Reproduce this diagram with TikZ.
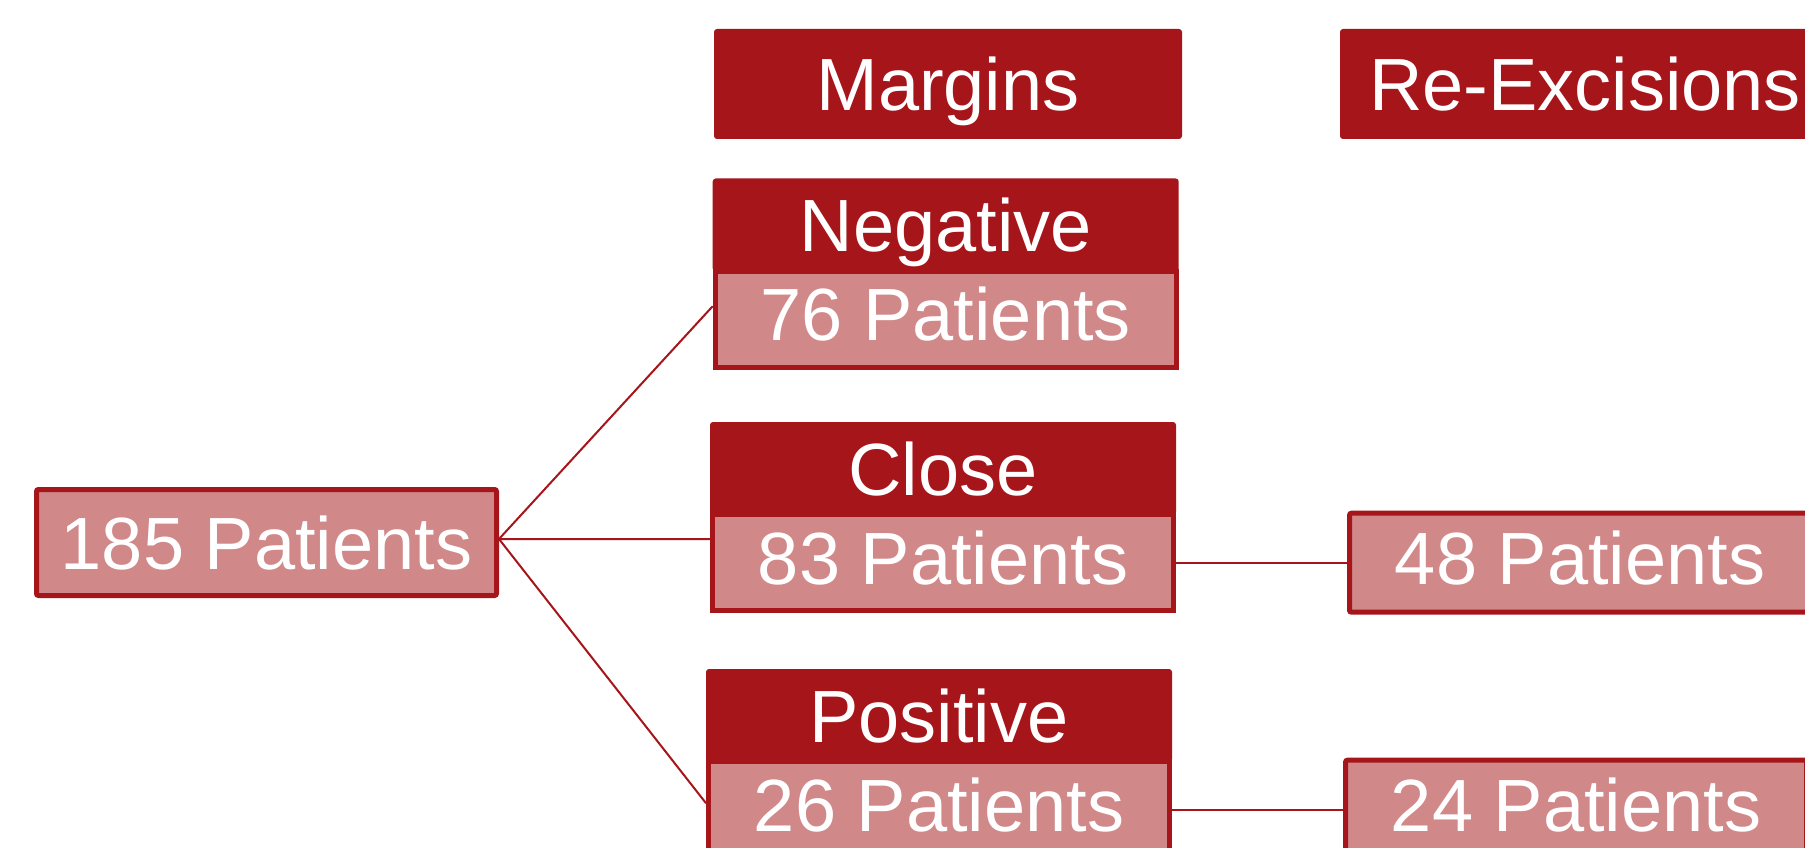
\documentclass[tikz,border=0pt]{standalone}
\usepackage{fontspec}
\setmainfont{Liberation Sans}
\usetikzlibrary{positioning}
\definecolor{marginred}{RGB}{165,21,26}
\definecolor{marginpink}{RGB}{209,136,137}
\begin{document}
\begin{tikzpicture}
		[x=1pt, y=-1pt,
		head/.style={rectangle, fill=marginred, rounded corners=3pt,
			text=white, inner sep=0pt, minimum width=466pt, minimum height=93pt,
			text height=53pt, text depth=0pt, font=\fontsize{74}{80}\selectfont},
		count/.style={rectangle, fill=marginpink, draw=marginred, line width=5pt,
			rounded corners=2pt, text=white, inner sep=0pt,
			minimum width=461pt, minimum height=93pt,
			text height=53pt, text depth=10pt, font=\fontsize{74}{80}\selectfont},
		link/.style={draw=marginred, line width=2pt}
		]
		\useasboundingbox (0,0) rectangle (1805,848);
		\clip (0,0) rectangle (1805,848);
		\node[head, minimum width=468pt, minimum height=110pt] (hMargins) at (948,84) {Margins};
		\node[head, minimum width=490pt, minimum height=110pt] (hReex) at (1585,84) {Re-Excisions};
		\node[count, minimum width=460pt, minimum height=106pt, text depth=0pt] (n185) at (266.5,542.5) {185 Patients};
		\node[head] (hNeg) at (945.7,225) {Negative};
		\node[count, sharp corners, minimum height=96pt, below=-3pt of hNeg] (cNeg) {76 Patients};
		\node[head] (hClose) at (943,468.5) {Close};
		\node[count, sharp corners, minimum height=96pt, below=-3pt of hClose] (cClose) {83 Patients};
		\node[head] (hPos) at (939,715.5) {Positive};
		\node[count, sharp corners, minimum height=96pt, below=-3pt of hPos] (cPos) {26 Patients};
		\node[count, minimum height=99pt, right=171pt of cClose] (c48) {48 Patients};
		\node[count, minimum height=99pt, right=171pt of cPos] (c24) {24 Patients};
		\draw[link] ([yshift=3.5pt]n185.east) -- ([yshift=13pt]cNeg.west);
		\draw[link] ([yshift=3.5pt]n185.east) -- ([yshift=23.5pt]cClose.west);
		\draw[link] ([yshift=3.5pt]n185.east) -- ([yshift=6.5pt]cPos.west);
		\draw[link] (cClose.east) -- (c48.west);
		\draw[link] (cPos.east) -- (c24.west);
	\end{tikzpicture}
\end{document}
